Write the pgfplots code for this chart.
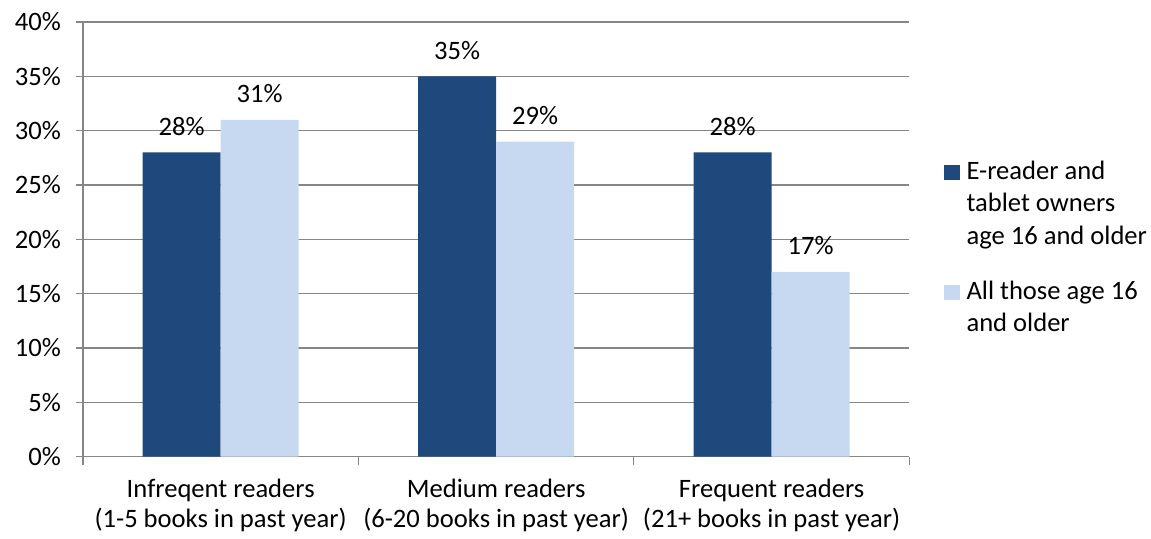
\documentclass[border=0pt]{standalone}
\usepackage{pgfplots}
\pgfplotsset{compat=1.18}
\usepackage{fontspec}
\setmainfont{Carlito}

\definecolor{darkblue}{HTML}{1F497D}
\definecolor{lightblue}{HTML}{C6D9F1}
\definecolor{gridgray}{HTML}{868686}

\newcommand{\chartfont}{\fontsize{13.3}{16}\selectfont}

\begin{document}
\begin{tikzpicture}
% reference size frame (1 px = 0.5pt)
\path (-41.5pt,-39.5pt) rectangle (534pt,228.5pt);

\begin{axis}[
  scale only axis,
  width=413.5pt, height=217.5pt,
  ybar=0pt,
  bar width=0.283,
  xmin=-0.5, xmax=2.5,
  ymin=0, ymax=40,
  xtick={0,1,2},
  xticklabels={{Infreqent readers\\(1-5 books in past year)},
               {Medium readers\\(6-20 books in past year)},
               {Frequent readers\\(21+ books in past year)}},
  x tick label style={align=center, font=\fontsize{13.3}{15}\selectfont, yshift=-4pt},
  minor xtick={-0.5,0.5,1.5,2.5},
  major x tick style={draw=none},
  minor tick length=4pt,
  ytick={0,5,...,40},
  yticklabels={0\%,5\%,10\%,15\%,20\%,25\%,30\%,35\%,40\%},
  y tick label style={font=\chartfont, xshift=-4pt},
  major tick length=3.5pt,
  tick align=outside,
  tick style={gridgray, line width=0.6pt},
  axis x line*=bottom,
  axis y line*=left,
  axis line style={gridgray, line width=0.6pt, -},
  ymajorgrids=true,
  grid style={gridgray, line width=0.6pt},
  nodes near coords={\pgfmathprintnumber[assume math mode=true]{\pgfplotspointmeta}\%},
  every node near coord/.append style={font=\chartfont, yshift=5pt},
  legend style={at={(1.042,0.692)}, anchor=north west, draw=none,
    font=\fontsize{13.3}{16.3}\selectfont, cells={align=left, anchor=north west},
    row sep=12.5pt, column sep=1.5pt, inner sep=0pt},
  legend image code/.code={\fill[#1] (0cm,-0.42cm) rectangle (0.265cm,-0.155cm);},
]

\addplot[fill=darkblue, draw=none] coordinates {(0,28) (1,35) (2,28)};
\addlegendentry{E-reader and\\tablet owners\\age 16 and older}

\addplot[fill=lightblue, draw=none] coordinates {(0,31) (1,29) (2,17)};
\addlegendentry{All those age 16\\and older}

\end{axis}
\end{tikzpicture}
\end{document}
